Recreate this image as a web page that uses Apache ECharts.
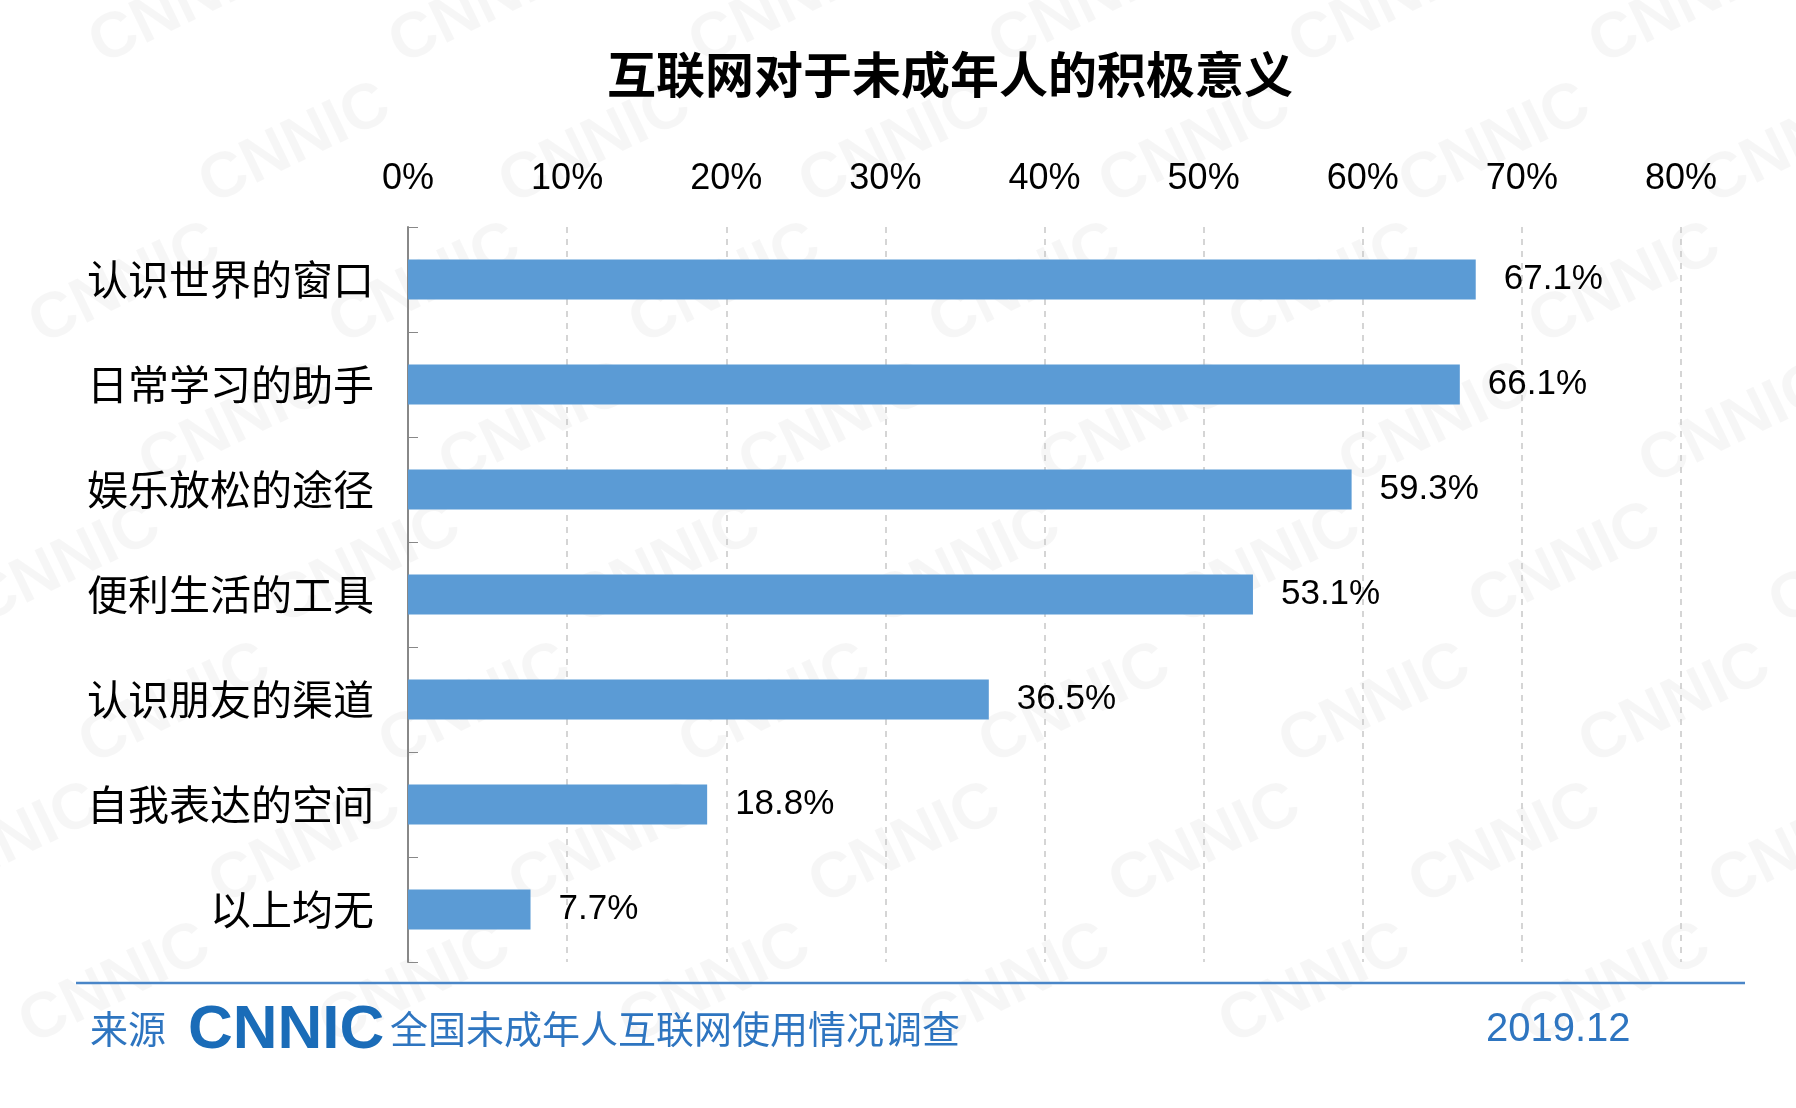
<!DOCTYPE html><html><head><meta charset="utf-8">
<script src="https://cdn.jsdelivr.net/npm/echarts@6/dist/echarts.min.js"></script>
<style>html,body{margin:0;background:#fff}#c{width:1796px;height:1108px}</style></head><body><div id="c"></div>
<script>
const categories=['认识世界的窗口','日常学习的助手','娱乐放松的途径','便利生活的工具','认识朋友的渠道','自我表达的空间','以上均无'];
const values=[67.1,66.1,59.3,53.1,36.5,18.8,7.7];
const ticks=[0,10,20,30,40,50,60,70,80];
const title='互联网对于未成年人的积极意义';
const source='全国未成年人互联网使用情况调查';
const date='2019.12';
const blue='#2e75c0';
const wm=[];
for(let r=0;r<8;r++)for(let c=0;c<7;c++){wm.push({type:'text',x:80+c*300+(r%2)*140-r*30,y:20+r*140,rotation:0.45,silent:true,z:-1,style:{text:'CNNIC',fill:'rgba(0,0,0,0.035)',font:'bold 64px "Liberation Sans"'}});}
const ch=echarts.init(document.getElementById('c'));
ch.setOption({
 animation:false,
 title:{text:title,left:945,textAlign:'center',top:45,textStyle:{fontFamily:'Noto Sans CJK SC',fontWeight:'bold',fontSize:49,color:'#000'}},
 grid:{left:408,right:115,top:227,bottom:146},
 xAxis:{type:'value',position:'top',min:0,max:80,interval:10,
  axisLabel:{formatter:v=>v+'%',fontFamily:'Liberation Sans',fontSize:36,color:'#000',margin:30},
  axisLine:{show:false},axisTick:{show:false},
  splitLine:{lineStyle:{type:[6,6],color:'#c8c8c8',width:1.5}}},
 yAxis:{type:'category',data:categories,inverse:true,
  axisLine:{lineStyle:{color:'#888',width:2}},axisTick:{show:true,inside:true,length:10,lineStyle:{color:'#888'}},
  axisLabel:{fontFamily:'Noto Sans CJK SC',fontSize:41,color:'#000',margin:34}},
 series:[{type:'bar',data:values,barWidth:40,itemStyle:{color:'#5b9bd5'},
  label:{show:true,position:'right',distance:28,formatter:p=>p.value.toFixed(1)+'%',fontFamily:'Liberation Sans',fontSize:35,color:'#000'}}],
 graphic:wm.concat([
  {type:'line',shape:{x1:76,y1:983,x2:1745,y2:983},style:{stroke:'#4a86c8',lineWidth:2.5}},
  {type:'text',x:90,y:1010,style:{text:'来源',fill:blue,font:'38px "Noto Sans CJK SC"'}},
  {type:'text',x:188,y:1000,style:{text:'CNNIC',fill:'#1a6cb8',font:'900 62px "Liberation Sans Narrow","Liberation Sans"'}},
  {type:'text',x:390,y:1010,style:{text:source,fill:blue,font:'38px "Noto Sans CJK SC"'}},
  {type:'text',x:1486,y:1010,style:{text:date,fill:blue,font:'40px "Liberation Sans"'}}
 ])
});
</script></body></html>
